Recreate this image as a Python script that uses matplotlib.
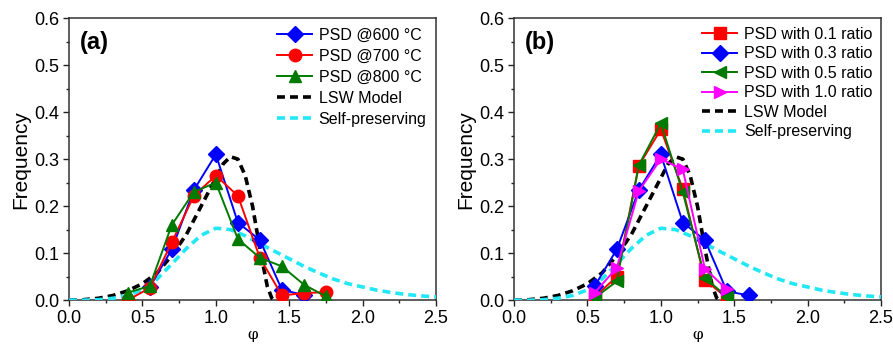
import numpy as np
import matplotlib.pyplot as plt

plt.rcParams['font.family'] = ['Liberation Sans', 'DejaVu Sans']

# theoretical curves
lsw_x = [0.0, 0.1, 0.2, 0.3, 0.4, 0.5, 0.6, 0.7, 0.8, 0.9, 1.0, 1.05, 1.1, 1.15, 1.2, 1.25, 1.3, 1.35, 1.38, 1.4]
lsw_y = [0.0, 0.001, 0.004, 0.01, 0.02, 0.035, 0.058, 0.095, 0.14, 0.2, 0.26, 0.29, 0.305, 0.3, 0.265, 0.2, 0.11, 0.03, 0.005, 0.0]
sp_x = [0.0, 0.1, 0.2, 0.3, 0.4, 0.5, 0.6, 0.7, 0.8, 0.9, 1.0, 1.1, 1.2, 1.3, 1.4, 1.5, 1.6, 1.7, 1.8, 1.9, 2.0, 2.1, 2.2, 2.3, 2.4, 2.5]
sp_y = [0.0, 0.0, 0.001, 0.004, 0.01, 0.022, 0.045, 0.077, 0.11, 0.138, 0.153, 0.15, 0.137, 0.12, 0.104, 0.088, 0.072, 0.058, 0.045, 0.035, 0.028, 0.021, 0.016, 0.012, 0.009, 0.007]

# panel (a): temperature
phi_600 = [0.55, 0.7, 0.85, 1.0, 1.15, 1.3, 1.45, 1.6]
psd_600 = [0.028, 0.108, 0.234, 0.31, 0.165, 0.128, 0.022, 0.011]
phi_700 = [0.4, 0.55, 0.7, 0.85, 1.0, 1.15, 1.3, 1.45, 1.6, 1.75]
psd_700 = [0.0, 0.026, 0.123, 0.222, 0.265, 0.222, 0.09, 0.01, 0.015, 0.017]
phi_800 = [0.4, 0.55, 0.7, 0.85, 1.0, 1.15, 1.3, 1.45, 1.6, 1.75]
psd_800 = [0.016, 0.03, 0.16, 0.23, 0.25, 0.13, 0.09, 0.072, 0.033, 0.008]

# panel (b): ratio
phi_b = [0.55, 0.7, 0.85, 1.0, 1.15, 1.3, 1.45]
psd_r01 = [0.007, 0.05, 0.286, 0.363, 0.236, 0.043, 0.005]
phi_r03 = [0.55, 0.7, 0.85, 1.0, 1.15, 1.3, 1.45, 1.6]
psd_r03 = [0.03, 0.108, 0.234, 0.31, 0.165, 0.128, 0.019, 0.01]
psd_r05 = [0.005, 0.04, 0.287, 0.376, 0.229, 0.048, 0.007]
psd_r10 = [0.016, 0.069, 0.232, 0.3, 0.278, 0.067, 0.023]

fig = plt.figure(figsize=(8.93, 3.47), dpi=100)
ax1 = fig.add_axes([0.0773, 0.135, 0.411, 0.813])
ax2 = fig.add_axes([0.5756, 0.135, 0.411, 0.813])

ms = 9
lw = 1.4
ax1.plot(phi_600, psd_600, '-D', color='#0000FF', mfc='#0000FF', mec='#0000FF', ms=8, lw=lw, label='PSD @600 °C', zorder=4)
ax1.plot(phi_700, psd_700, '-o', color='#FF0000', mfc='#FF0000', mec='#FF0000', ms=ms, lw=lw, label='PSD @700 °C', zorder=4)
ax1.plot(phi_800, psd_800, '-^', color='#007A00', mfc='#007A00', mec='#007A00', ms=ms, lw=lw, label='PSD @800 °C', zorder=4)

ax2.plot(phi_b, psd_r01, '-s', color='#FF0000', mfc='#FF0000', mec='#FF0000', ms=8, lw=lw, label='PSD with 0.1 ratio', zorder=4)
ax2.plot(phi_r03, psd_r03, '-D', color='#0000FF', mfc='#0000FF', mec='#0000FF', ms=8, lw=lw, label='PSD with 0.3 ratio', zorder=4)
ax2.plot(phi_b, psd_r05, '-<', color='#007A00', mfc='#007A00', mec='#007A00', ms=ms, lw=lw, label='PSD with 0.5 ratio', zorder=4)
ax2.plot(phi_b, psd_r10, '->', color='#FF00FF', mfc='#FF00FF', mec='#FF00FF', ms=ms, lw=lw, label='PSD with 1.0 ratio', zorder=4)

for ax, tag in [(ax1, '(a)'), (ax2, '(b)')]:
    ax.plot(lsw_x, lsw_y, '--', color='black', lw=2.6, dashes=(2.2, 1.4), label='LSW Model', zorder=3)
    ax.plot(sp_x, sp_y, '--', color='#22E8F5', lw=2.6, dashes=(2.2, 1.4), label='Self-preserving', zorder=3)
    ax.set_xlim(0, 2.5)
    ax.set_ylim(0, 0.6)
    ax.set_xticks(np.arange(0, 2.51, 0.5))
    ax.set_xticks(np.arange(0.25, 2.5, 0.5), minor=True)
    ax.set_yticks(np.arange(0, 0.61, 0.1))
    ax.set_yticks(np.arange(0.05, 0.6, 0.1), minor=True)
    ax.tick_params(which='major', direction='out', length=4, width=1, labelsize=13, colors='#222222', pad=3)
    ax.tick_params(which='minor', direction='out', length=2.5, width=1, colors='#222222')
    ax.tick_params(labelcolor='black')
    for s in ax.spines.values():
        s.set_color('#333333')
        s.set_linewidth(1.1)
    ax.set_ylabel('Frequency', fontsize=15, labelpad=3)
    ax.set_xlabel('φ', fontsize=11, family='DejaVu Serif', labelpad=1)
    ax.text(0.03, 0.955, tag, transform=ax.transAxes, fontsize=17, fontweight='bold', va='top')

ax1.legend(loc='upper right', frameon=False, fontsize=11.5, handlelength=2.2, labelspacing=0.38,
           borderaxespad=0.2, handletextpad=0.4, bbox_to_anchor=(1.0, 1.0))
ax2.legend(loc='upper right', frameon=False, fontsize=11.5, handlelength=2.2, labelspacing=0.28,
           borderaxespad=0.15, handletextpad=0.4, bbox_to_anchor=(1.0, 1.0))

fig.savefig('out.png', dpi=100)
